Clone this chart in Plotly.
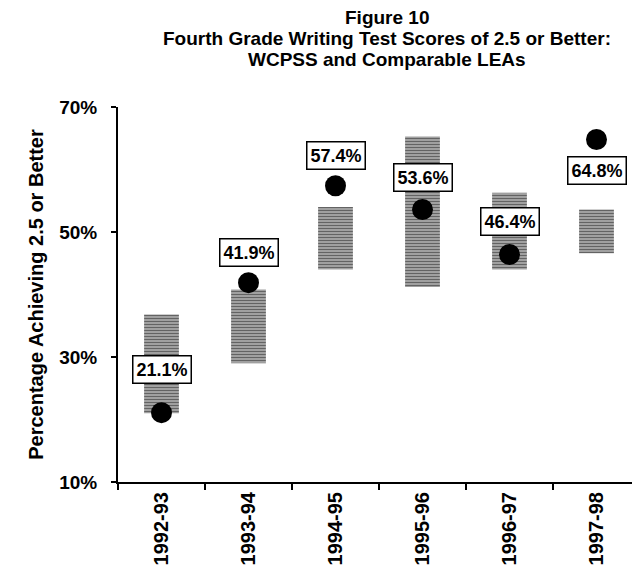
import plotly.graph_objects as go

# data
years = ["1992-93", "1993-94", "1994-95", "1995-96", "1996-97", "1997-98"]
wcpss = [21.1, 41.9, 57.4, 53.6, 46.4, 64.8]          # WCPSS dots
lea_low = [21.0, 29.0, 44.0, 41.2, 44.0, 46.6]        # comparable LEAs, range bottom
lea_high = [36.8, 40.8, 54.0, 65.3, 56.3, 53.6]       # comparable LEAs, range top
y_ticks = [10, 30, 50, 70]
title_lines = [
    "Figure 10",
    "Fourth Grade Writing Test Scores of 2.5 or Better:",
    "WCPSS and Comparable LEAs",
]

# pixel offset of each value box from its dot (style only)
label_shift = [43, 30, 30, 32, 33, -31]

FONT = "Liberation Sans, Arial, sans-serif"
PAGE_PAD = 8  # default body margin of the html page
W, H = 640 - PAGE_PAD, 573 - PAGE_PAD
M = dict(l=118 - PAGE_PAD, r=0, t=107 - PAGE_PAD, b=91)


def px_to_paper(px, py):
    """page pixel -> paper coords of the plot area"""
    px, py = px - PAGE_PAD, py - PAGE_PAD
    pw = W - M["l"] - M["r"]
    ph = H - M["t"] - M["b"]
    return (px - M["l"]) / pw, (H - M["b"] - py) / ph


fig = go.Figure()

fig.add_trace(go.Bar(
    x=years,
    y=[h - l for h, l in zip(lea_high, lea_low)],
    base=lea_low,
    width=0.4,
    marker=dict(
        color="#9a9a9a",
        line=dict(width=0),
        pattern=dict(shape="-", fgcolor="#111111", bgcolor="#b4b4b4",
                     size=3, solidity=0.5),
    ),
    showlegend=False,
    hoverinfo="skip",
))

fig.add_trace(go.Scatter(
    x=years,
    y=wcpss,
    mode="markers",
    marker=dict(size=21, color="black"),
    showlegend=False,
))

for yr, v, s in zip(years, wcpss, label_shift):
    fig.add_annotation(
        x=yr, y=v, yshift=s,
        text=f"<b>{v:.1f}%</b>",
        showarrow=False,
        font=dict(family=FONT, size=18, color="black"),
        bgcolor="white",
        bordercolor="black",
        borderwidth=1.5,
        borderpad=3,
    )

# title lines, centred where the scan puts them
for line, cy in zip(title_lines, [17, 38, 59]):
    px, py = px_to_paper(387, cy)
    fig.add_annotation(
        xref="paper", yref="paper", x=px, y=py,
        xanchor="center", yanchor="middle",
        text=f"<b>{line}</b>", showarrow=False,
        font=dict(family=FONT, size=19, color="black"),
    )

fig.update_layout(
    width=W,
    height=H,
    margin=M,
    plot_bgcolor="white",
    paper_bgcolor="white",
    font=dict(family=FONT, color="black"),
    xaxis=dict(
        type="category",
        automargin=False,
        showline=True, linecolor="black", linewidth=2,
        ticks="outside", tickson="boundaries", ticklen=6, tickwidth=2,
        tickcolor="black",
        tickangle=-90,
        tickfont=dict(family=FONT, size=20, color="black"),
        tickprefix="<b>", ticksuffix="</b>",
        showgrid=False,
    ),
    yaxis=dict(
        range=[10, 70],
        automargin=False,
        tickvals=y_ticks,
        ticktext=[f"<b>{t}%</b>" for t in y_ticks],
        showline=True, linecolor="black", linewidth=2,
        ticks="outside", ticklen=5, tickwidth=2, tickcolor="black",
        ticklabelstandoff=10,
        tickfont=dict(family=FONT, size=19, color="black"),
        showgrid=False, zeroline=False,
        title=dict(text="<b>Percentage Achieving 2.5 or Better</b>",
                   font=dict(family=FONT, size=20, color="black"),
                   standoff=10),
    ),
)

fig.write_html("out.html")
